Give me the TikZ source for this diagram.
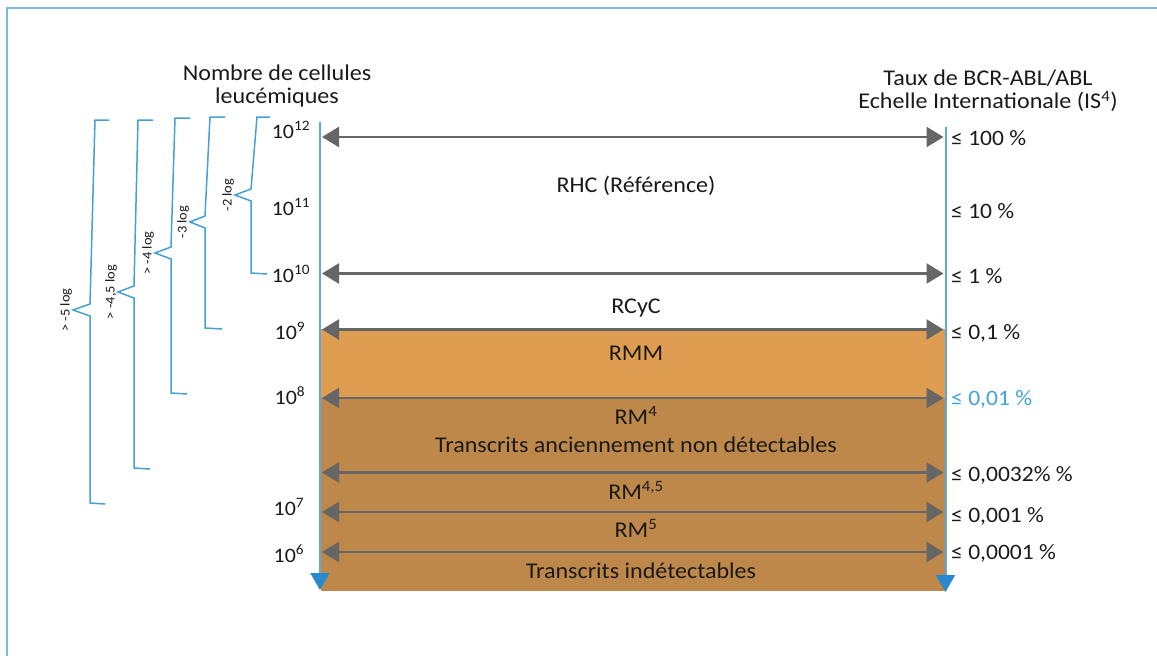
\documentclass[tikz,border=0pt]{standalone}
\usepackage{fontspec}
\setmainfont{Carlito}[FakeStretch=1.07]
\usetikzlibrary{arrows.meta}
\definecolor{frameblue}{HTML}{7DB9E2}
\definecolor{axisblue}{HTML}{5AA8DC}
\definecolor{tipblue}{HTML}{2A88CF}
\definecolor{braceblue}{HTML}{45A0D6}
\definecolor{lightorange}{HTML}{DF9D52}
\definecolor{darkorange}{HTML}{BD884A}
\definecolor{arrowgray}{HTML}{666666}
\definecolor{pctblue}{HTML}{3FA3DC}
\definecolor{txt}{HTML}{1A1A1A}
\newcommand{\mybrace}[9]{%
  % #1 top hook end x, #2 top vertical x, #3 lower vertical x, #4 top y, #5 mid y, #6 tip x, #7 bottom y, #8 bottom hook end x, #9 label
  \draw[bracestyle] (#1,#4) -- (#2,#4) -- (#3,#5-6) -- (#6,#5) -- (#3,#5+6) -- (#3,#7) -- (#8,#7+1);
  \node[bracelab] at (#6-7,#5) {#9};
}
\begin{document}
\begin{tikzpicture}[x=1pt,y=-1pt,
  lab/.style={font=\fontsize{22.5}{23}\selectfont, text=txt, inner sep=0pt},
  numlab/.style={font=\fontsize{20.5}{23}\selectfont, text=txt, inner sep=0pt, anchor=base},
  pct/.style={font=\fontsize{22}{23}\selectfont, text=txt, inner sep=0pt, anchor=base west},
  bracestyle/.style={draw=braceblue, line width=1.5pt, line join=miter},
  bracelab/.style={font=\fontsize{13.5}{15}\selectfont, text=txt, inner sep=0pt, rotate=90},
  grayarrow/.style={draw=arrowgray, line width=2.4pt, {Triangle[length=17pt,width=20pt]}-{Triangle[length=17pt,width=20pt]}},
  axis/.style={draw=axisblue, line width=2pt, -{Triangle[length=17pt,width=19pt,color=tipblue]}}
]
\useasboundingbox (0,0) rectangle (1157,656);
% frame
\draw[frameblue, line width=2pt] (1157,8) -- (7,8) -- (7,656);

% coloured bands
\fill[lightorange] (321,329) rectangle (945,398);
\fill[darkorange] (321,398) rectangle (945,591);

% axes
\coordinate (LT) at (320,122);
\coordinate (LB) at (320,590);
\coordinate (RT) at (945.5,127);
\coordinate (RB) at (945.5,592);
\draw[axis] (LT) -- (LB);
\draw[axis] (RT) -- (RB);

% level coordinates
\foreach \n/\y in {a/137, b/273.5, c/329.5, d/398, e/472.5, f/512, g/552}{
  \coordinate (L\n) at (322,\y);
  \coordinate (R\n) at (943.5,\y);
}
\foreach \n in {a,b,c,d,e,f,g}{
  \draw[grayarrow] (L\n) -- (R\n);
}

% titles
\node[lab, align=center] (t1) at (277,86) {Nombre de cellules\\leucémiques};
\node[lab, align=center] (t2) at (988,91) {Taux de BCR-ABL/ABL\\Echelle Internationale (IS\textsuperscript{4})};

% cell numbers
\node[numlab] (n12) at (291,138) {10\textsuperscript{12}};
\node[numlab] (n11) at (291,215) {10\textsuperscript{11}};
\node[numlab] (n10) at (291,282) {10\textsuperscript{10}};
\node[numlab] (n9) at (290,339) {10\textsuperscript{9}};
\node[numlab] (n8) at (290,404) {10\textsuperscript{8}};
\node[numlab] (n7) at (289,515) {10\textsuperscript{7}};
\node[numlab] (n6) at (289,562) {10\textsuperscript{6}};

% percentages
\node[pct] (p1) at (951,145) {≤ 100 \%};
\node[pct] (p2) at (951,218) {≤ 10 \%};
\node[pct] (p3) at (951,283) {≤ 1 \%};
\node[pct] (p4) at (951,339) {≤ 0,1 \%};
\node[pct, text=pctblue] (p5) at (951,405) {≤ 0,01 \%};
\node[pct] (p6) at (951,481) {≤ 0,0032\% \%};
\node[pct] (p7) at (951,522) {≤ 0,001 \%};
\node[pct] (p8) at (951,559) {≤ 0,0001 \%};

% band labels
\node[lab, anchor=base] (rhc) at (636,192) {RHC (Référence)};
\node[lab, anchor=base] (rcyc) at (636,313) {RCyC};
\node[lab, anchor=base] (rmm) at (636,360) {RMM};
\node[lab, anchor=base] (rm4) at (636,424) {RM\textsuperscript{4}};
\node[lab, anchor=base] (tand) at (636,452) {Transcrits anciennement non détectables};
\node[lab, anchor=base] (rm45) at (636,499) {RM\textsuperscript{4,5}};
\node[lab, anchor=base] (rm5) at (636,537) {RM\textsuperscript{5}};
\node[lab, anchor=base] (tind) at (641,578) {Transcrits indétectables};

% braces
\mybrace{270}{257}{251}{117}{195}{235}{273}{267}{-2 log}
\mybrace{225}{210}{205}{117}{222}{190}{328}{222}{-3 log}
\mybrace{190}{175}{171}{118}{253}{155}{393}{187}{> -4 log}
\mybrace{153}{138}{134}{120}{292}{118}{468}{150}{> -4,5 log}
\mybrace{109}{95}{90}{120}{310}{73}{503}{105}{> -5 log}
\end{tikzpicture}
\end{document}
